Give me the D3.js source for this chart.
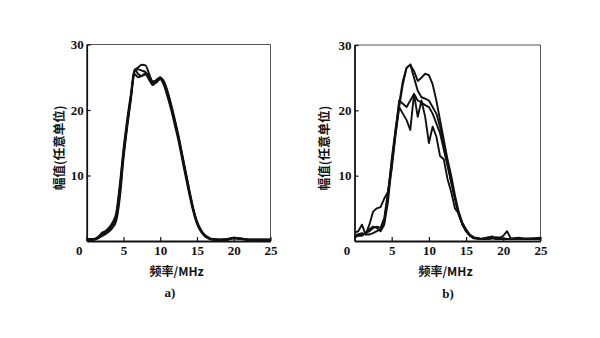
<!DOCTYPE html>
<html><head><meta charset="utf-8">
<script src="https://cdn.jsdelivr.net/npm/d3@7"></script>
<style>body{margin:0;background:#fff}svg{display:block}</style>
</head><body>
<svg id="c" width="600" height="338"></svg>
<script>
const freqA = [0,1,1.5,2,2.5,3,3.5,4,4.5,5,5.5,6,6.5,7,7.5,8,8.5,9,9.5,10,10.5,11,11.5,12,12.5,13,13.5,14,14.5,15,15.5,16,16.5,17,18,19,20,21,22,23,24,25];
const a1 = [0.2,0.3,0.6,1.0,1.3,1.8,2.6,3.8,8.0,13.5,18.0,22.0,26.0,26.5,26.9,26.8,25.5,24.2,24.6,25.0,24.2,22.8,20.8,18.5,16.0,13.2,10.4,7.6,5.0,3.0,1.8,1.0,0.6,0.3,0.2,0.2,0.5,0.4,0.2,0.2,0.2,0.2];
const a2 = [0.2,0.2,0.4,0.8,1.2,1.6,2.4,3.4,7.2,13.0,17.6,21.8,25.8,26.2,26.0,25.8,25.0,24.0,24.2,24.8,24.0,22.3,20.2,18.0,15.6,12.8,10.0,7.2,4.7,2.8,1.6,0.9,0.5,0.3,0.2,0.2,0.4,0.3,0.2,0.2,0.2,0.2];
const a3 = [0.3,0.3,0.5,1.2,1.5,2.0,2.8,4.2,8.6,14.0,18.5,22.4,26.2,25.5,25.2,25.4,24.6,23.8,24.4,24.7,23.8,22.0,20.0,17.6,15.2,12.4,9.6,6.9,4.5,2.6,1.5,0.8,0.4,0.2,0.2,0.3,0.5,0.4,0.2,0.2,0.2,0.2];
const a4 = [0.2,0.2,0.4,0.7,1.0,1.4,2.0,3.0,6.5,12.5,17.3,21.5,25.5,25.0,25.2,25.6,25.2,24.4,24.5,24.9,24.4,22.8,20.5,18.2,15.8,13.0,10.2,7.4,4.8,2.9,1.7,0.9,0.5,0.3,0.2,0.2,0.4,0.3,0.2,0.2,0.2,0.2];

const freqB = [0,0.5,1,1.5,2,2.5,3,3.5,4,4.5,5,5.5,6,6.5,7,7.5,8,8.5,9,9.5,10,10.5,11,11.5,12,12.5,13,13.5,14,14.5,15,15.5,16,17,18,18.5,19,19.5,20,20.5,21,22,23,24,25];
const b1 = [0.8,1.0,1.0,1.2,1.5,2.0,2.2,2.0,3.5,7.5,12.0,16.5,20.5,24.0,26.5,27.0,26.0,24.5,25.0,25.6,25.4,24.0,21.5,18.5,15.5,12.5,10.0,7.0,4.5,2.8,1.8,1.0,0.6,0.3,0.3,0.4,0.3,0.3,0.3,0.3,0.3,0.3,0.3,0.3,0.3];
const b2 = [0.5,1.0,1.2,1.0,1.0,1.2,1.5,1.8,3.0,7.0,12.5,17.0,21.0,24.5,26.5,27.0,25.0,23.0,22.0,21.8,21.5,20.5,19.5,17.5,15.0,12.0,9.0,6.5,4.0,2.6,1.5,0.9,0.5,0.3,0.6,0.4,0.6,0.5,0.8,1.5,0.4,0.4,0.3,0.4,0.5];
const b3 = [1.2,1.5,2.5,1.0,2.5,4.5,5.0,5.2,6.5,7.5,11.0,16.0,20.5,19.5,18.5,17.0,22.5,19.0,21.5,19.0,15.0,17.5,16.0,13.0,12.5,9.5,7.5,5.0,4.2,2.5,1.5,0.8,0.4,0.3,0.5,0.7,0.4,0.5,0.4,0.3,0.3,0.5,0.3,0.4,0.4];
const b4 = [0.6,0.8,0.8,1.2,1.8,2.2,2.0,1.5,2.5,6.0,11.5,16.5,21.5,21.0,20.5,21.5,22.5,21.5,21.2,20.8,20.5,19.5,18.0,16.5,14.0,11.5,9.0,6.5,4.2,2.6,1.5,0.8,0.5,0.3,0.3,0.5,0.4,0.3,0.3,0.3,0.3,0.3,0.4,0.3,0.3];

const xTicks = [0,5,10,15,20,25];
const yTicks = [10,20,30];
const xLabel = "频率/MHz";
const yLabel = "幅值(任意单位)";

const svg = d3.select("#c");
const serif = "'Liberation Serif','Times New Roman',serif";
const cjk = "'Noto Sans CJK SC','Noto Sans',sans-serif";

function panel(cfg){
  const x = d3.scaleLinear().domain([0,25]).range([cfg.x0,cfg.x1]);
  const y = d3.scaleLinear().domain([0,30]).range([cfg.y0,cfg.y1]);
  const g = svg.append("g");
  g.append("path").attr("d",`M${x(0)},${y(30)}H${x(25)}V${y(0)}`)
    .attr("fill","none").attr("stroke","#555").attr("stroke-width",1);
  const line = d3.line().x(d=>x(d[0])).y(d=>y(d[1])).curve(cfg.curve);
  cfg.series.forEach(s=>{
    g.append("path").datum(cfg.freq.map((f,i)=>[f,s[i]]))
      .attr("d",line).attr("fill","none").attr("stroke","#111")
      .attr("stroke-width",1.9).attr("stroke-linejoin","round");
  });
  const xa = g.append("g").attr("transform",`translate(0,${y(0)})`)
    .call(d3.axisBottom(x).tickValues(xTicks).tickSize(-4).tickPadding(5).tickSizeOuter(0));
  xa.selectAll("text").attr("dx",d=>d===0?-8:0);
  const ya = g.append("g").attr("transform",`translate(${x(0)},0)`)
    .call(d3.axisLeft(y).tickValues(yTicks).tickSize(-4).tickPadding(3).tickSizeOuter(0));
  [xa,ya].forEach(a=>{
    a.select(".domain").attr("stroke","#111").attr("stroke-width",1.8);
    a.selectAll(".tick line").attr("stroke","#111").attr("stroke-width",1.2);
    a.selectAll("text").attr("font-family",serif).attr("font-weight","bold")
      .attr("font-size",13).attr("fill","#111");
  });
  g.append("text").attr("x",(x(0)+x(25))/2-2).attr("y",cfg.xly)
    .attr("text-anchor","middle").attr("font-family",cjk).attr("font-weight","bold")
    .attr("font-size",12).attr("fill","#111").text(xLabel);
  g.append("text").attr("transform",`translate(${cfg.ylx},${(y(0)+y(30))/2+5}) rotate(-90)`)
    .attr("text-anchor","middle").attr("font-family",cjk).attr("font-weight","bold")
    .attr("font-size",12.5).attr("fill","#111").text(yLabel);
  g.append("text").attr("x",cfg.tagx).attr("y",cfg.tagy)
    .attr("text-anchor","middle").attr("font-family",serif).attr("font-weight","bold")
    .attr("font-size",13).attr("fill","#111").text(cfg.tag);
}

panel({x0:86.7,x1:270.5,y0:241,y1:44.5,freq:freqA,series:[a1,a2,a3,a4],
  curve:d3.curveMonotoneX,xly:276,ylx:64,tagx:170,tagy:297,tag:"a)"});
panel({x0:354.5,x1:540.5,y0:241,y1:45,freq:freqB,series:[b1,b2,b3,b4],
  curve:d3.curveLinear,xly:276,ylx:329,tagx:448,tagy:298,tag:"b)"});
</script>
</body></html>
